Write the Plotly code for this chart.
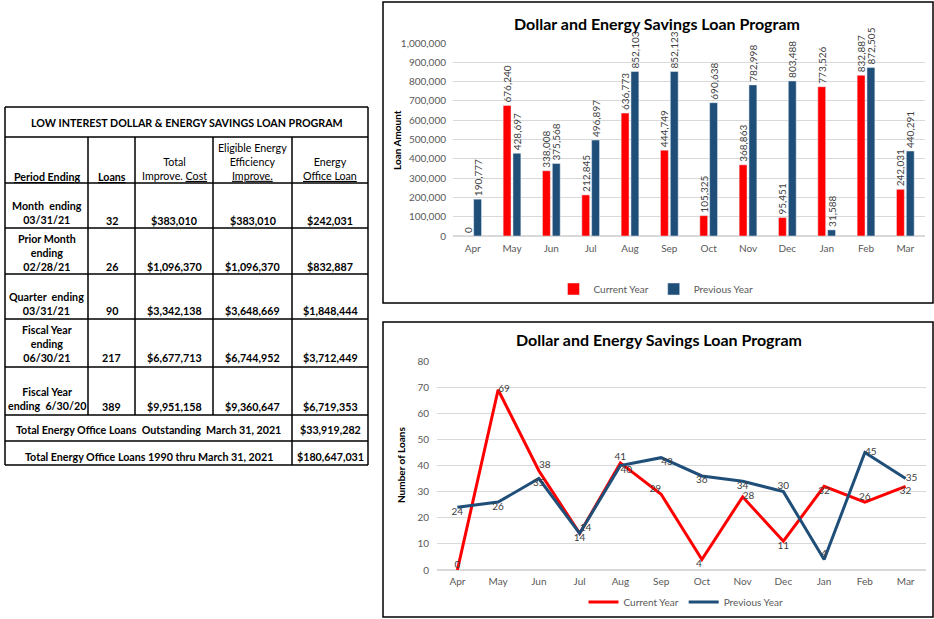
import plotly.graph_objects as go

# ---------------- data ----------------
months = ["Apr", "May", "Jun", "Jul", "Aug", "Sep", "Oct", "Nov", "Dec", "Jan", "Feb", "Mar"]
loan_current = [0, 676240, 338008, 212845, 636773, 444749, 105325, 368863, 95451, 773526, 832887, 242031]
loan_previous = [190777, 428697, 375568, 496897, 852103, 852123, 690638, 782998, 803488, 31588, 872505, 440291]
count_current = [0, 69, 38, 14, 41, 29, 4, 28, 11, 32, 26, 32]
count_previous = [24, 26, 35, 14, 40, 43, 36, 34, 30, 4, 45, 35]

chart_title = "Dollar and Energy Savings Loan Program"
series_names = ["Current Year", "Previous Year"]

table_title = "LOW INTEREST DOLLAR & ENERGY SAVINGS LOAN PROGRAM"
periods = ["Month  ending<br>03/31/21", "Prior Month<br>ending<br>02/28/21",
           "Quarter  ending<br>03/31/21", "Fiscal Year<br>ending<br>06/30/21",
           "Fiscal Year<br>ending  6/30/20"]
loans = ["32", "26", "90", "217", "389"]
total_cost = ["$383,010", "$1,096,370", "$3,342,138", "$6,677,713", "$9,951,158"]
eligible = ["$383,010", "$1,096,370", "$3,648,669", "$6,744,952", "$9,360,647"]
office_loan = ["$242,031", "$832,887", "$1,848,444", "$3,712,449", "$6,719,353"]
totals_labels = ["Total Energy Office Loans  Outstanding  March 31, 2021",
                 "Total Energy Office Loans 1990 thru March 31, 2021"]
totals_values = ["$33,919,282", "$180,647,031"]

# ---------------- styling ----------------
W, H = 934, 619
RED = "#FF0000"
BLUE = "#1F4E79"
GRID = "#D9D9D9"
TICK = "#595959"
LBL = "#404040"
FONT = "Lato"


def X(px):
    return px / W


def Y(py):
    return 1 - py / H


fig = go.Figure()

# ---------------- bar chart ----------------
fmt = lambda v: f"{v:,}"
for vals, name, col in [(loan_current, series_names[0], RED), (loan_previous, series_names[1], BLUE)]:
    fig.add_trace(go.Bar(x=months, y=vals, name=name, marker_color=col,
                         text=[fmt(v) for v in vals], textposition="outside", textangle=-90,
                         textfont=dict(size=10, color=LBL, family=FONT), cliponaxis=False,
                         constraintext="none", xaxis="x", yaxis="y", legend="legend"))

# ---------------- line chart ----------------
pos_cur = ["top center", "middle right", "top right", "top right", "top center", "top left",
           "bottom left", "middle right", "bottom center", "bottom center", "top center", "bottom center"]
pos_prev = ["bottom center", "bottom center", "bottom center", "bottom center", "bottom right",
            "bottom right", "bottom center", "bottom center", "top center", "top center",
            "middle right", "middle right"]
fig.add_trace(go.Scatter(x=months, y=count_current, name=series_names[0], mode="lines+text",
                         line=dict(color=RED, width=3), text=[str(v) for v in count_current],
                         textposition=pos_cur, textfont=dict(size=10, color=LBL, family=FONT),
                         cliponaxis=False, xaxis="x2", yaxis="y2", legend="legend2"))
fig.add_trace(go.Scatter(x=months, y=count_previous, name=series_names[1], mode="lines+text",
                         line=dict(color=BLUE, width=3), text=[str(v) for v in count_previous],
                         textposition=pos_prev, textfont=dict(size=10, color=LBL, family=FONT),
                         cliponaxis=False, xaxis="x2", yaxis="y2", legend="legend2"))

axis_common = dict(showline=False, ticks="", automargin=False,
                   tickfont=dict(size=10, color=TICK, family=FONT))

annotations = []
shapes = []


def note(text, px, py, size, angle=0, color="black"):
    annotations.append(dict(text=text, x=X(px), y=Y(py), xref="paper", yref="paper", showarrow=False,
                            xanchor="center", yanchor="middle", align="center", textangle=angle,
                            font=dict(size=size, color=color, family=FONT)))


# chart frames
shapes.append(dict(type="rect", xref="paper", yref="paper", x0=X(383), x1=X(933), y0=Y(303), y1=Y(2),
                   line=dict(color="black", width=1.5)))
shapes.append(dict(type="rect", xref="paper", yref="paper", x0=X(383), x1=X(933), y0=Y(617), y1=Y(322),
                   line=dict(color="black", width=1.5)))

note("<b>" + chart_title + "</b>", 657, 23, 16)
note("<b>" + chart_title + "</b>", 659, 340, 16)
note("<b>Loan Amount</b>", 397, 140, 10, -90)
note("<b>Number of Loans</b>", 401, 465, 10, -90)

# ---------------- table ----------------
col_x = [5, 88, 135, 213, 292, 368]
row_y = [107, 137, 183, 228, 274, 319, 367, 415, 441, 465]
LW = 1.5
for yy in row_y:
    shapes.append(dict(type="line", xref="paper", yref="paper", x0=X(col_x[0]), x1=X(col_x[-1]),
                       y0=Y(yy), y1=Y(yy), line=dict(color="black", width=LW)))
for xx in [col_x[0], col_x[-1]]:
    shapes.append(dict(type="line", xref="paper", yref="paper", x0=X(xx), x1=X(xx),
                       y0=Y(row_y[0]), y1=Y(row_y[-1]), line=dict(color="black", width=LW)))
for xx in col_x[1:4]:
    shapes.append(dict(type="line", xref="paper", yref="paper", x0=X(xx), x1=X(xx),
                       y0=Y(row_y[1]), y1=Y(row_y[7]), line=dict(color="black", width=LW)))
shapes.append(dict(type="line", xref="paper", yref="paper", x0=X(col_x[4]), x1=X(col_x[4]),
                   y0=Y(row_y[1]), y1=Y(row_y[-1]), line=dict(color="black", width=LW)))

TS = 10.7
centers = [(a + b) / 2 for a, b in zip(col_x[:-1], col_x[1:])]
note("<b>" + table_title + "</b>", 187, 122, TS)
note("<b><u>Period Ending</u></b>", centers[0], 176, TS)
note("<b><u>Loans</u></b>", centers[1], 176, TS)
note("Total<br>Improve. <u>Cost</u>", centers[2], 168.5, TS)
note("Eligible Energy<br>Efficiency<br><u>Improve.</u>", centers[3], 161, TS)
note("Energy<br><u>Office Loan</u>", centers[4], 168.5, TS)

label_cy = [212, 252, 303, 343, 398.5]
value_cy = [220, 266, 310, 357, 406]
for i in range(len(periods)):
    note("<b>" + periods[i] + "</b>", centers[0], label_cy[i], TS)
    for j, col in enumerate([loans, total_cost, eligible, office_loan]):
        note("<b>" + col[i] + "</b>", centers[j + 1], value_cy[i], TS)

tot_cy = [429, 456]
for i in range(2):
    note("<b>" + totals_labels[i] + "</b>", (col_x[0] + col_x[4]) / 2, tot_cy[i], TS)
    note("<b>" + totals_values[i] + "</b>", (col_x[4] + col_x[5]) / 2, tot_cy[i], TS)

fig.update_layout(
    width=W, height=H, margin=dict(l=0, r=0, t=0, b=0, autoexpand=False),
    paper_bgcolor="white", plot_bgcolor="white",
    font=dict(family=FONT),
    barmode="group", bargap=0.5, bargroupgap=0.2,
    xaxis=dict(domain=[X(453), X(925)], anchor="y", ticklabelstandoff=5, **axis_common),
    yaxis=dict(domain=[Y(236), Y(43)], anchor="x", range=[0, 1000000], dtick=100000,
               tickformat=",d", gridcolor=GRID, zeroline=True, zerolinecolor=GRID,
               ticklabelstandoff=6, **axis_common),
    xaxis2=dict(domain=[X(437), X(926)], anchor="y2", range=[-0.5, 11.5], ticklabelstandoff=4,
                **axis_common),
    yaxis2=dict(domain=[Y(570), Y(361)], anchor="x2", range=[0, 80], dtick=10,
                gridcolor=GRID, zeroline=True, zerolinecolor=GRID, ticklabelstandoff=7, **axis_common),
    legend=dict(x=X(656), y=Y(289), xanchor="center", yanchor="middle", orientation="h",
                font=dict(size=10, color=TICK, family=FONT), itemwidth=30,
                bgcolor="rgba(0,0,0,0)"),
    legend2=dict(x=X(686), y=Y(602), xanchor="center", yanchor="middle", orientation="h",
                 font=dict(size=10, color=TICK, family=FONT), itemwidth=30,
                 bgcolor="rgba(0,0,0,0)"),
    annotations=annotations, shapes=shapes,
)

fig.write_html("out.html", config={"displayModeBar": False},
               post_script="document.body.style.margin='0px';")
